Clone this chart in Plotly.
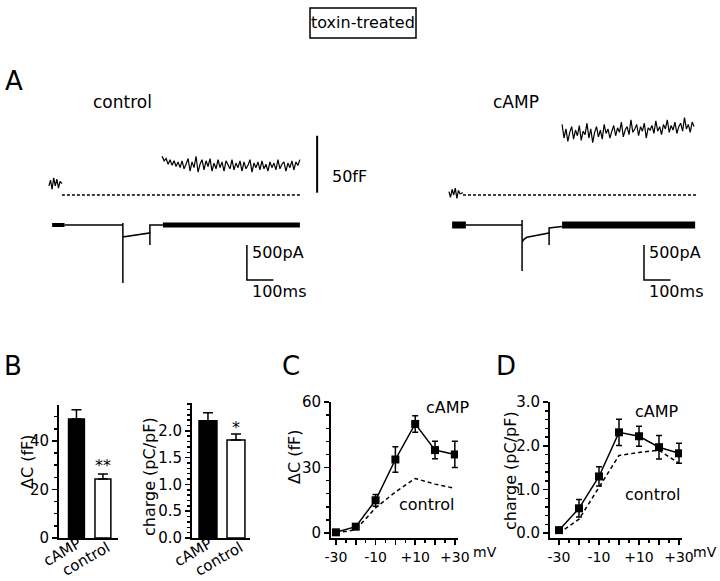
import plotly.graph_objects as go

W, H = 720, 581
FONT = "DejaVu Sans"

# ---------------- Panel A data (time in ms, capacitance in fF, current in pA)
ctrl_pre_t = [-4, 2, 8, 14, 20, 26, 32, 38, 45]
ctrl_pre_c = [8, 13, 5, 15, 8, 14, 6, 12, 10]
ctrl_base_t = [45, 943]
ctrl_post_c = [34, 30, 32, 27, 31, 26, 30, 25, 29, 24, 30, 23, 27, 32, 21, 29, 24, 34, 20, 27,
               31, 22, 30, 25, 32, 21, 28, 23, 31, 24, 29, 21, 30, 26, 23, 31, 22, 28, 24, 30,
               21, 29, 23, 26, 31, 20, 28, 24, 29, 22, 30, 23, 27, 21, 29, 24, 28, 22, 31, 23,
               27, 29, 21, 28, 24, 30, 22, 29, 26, 31]
ctrl_post_t0, ctrl_post_t1 = 423, 943
ctrl_cur_t = [55, 275, 275, 275, 275, 377, 377, 377, 377, 426]
ctrl_cur_i = [0, 0, 30, -830, -170, -114, -286, -14, 0, 0]
ctrl_pre_band = [8, 55]
ctrl_band = [426, 943]

camp_pre_t = [-4, 2, 8, 14, 20, 26, 32, 38, 49]
camp_pre_c = [3, -2, 5, 0, 6, -3, 4, 1, 2]
camp_base_t = [49, 936]
camp_post_c = [62, 50, 58, 47, 55, 60, 49, 57, 52, 61, 48, 56, 53, 63, 50, 58, 46, 55, 60, 51,
               57, 49, 62, 54, 58, 50, 56, 61, 52, 59, 55, 64, 51, 57, 60, 53, 66, 55, 58, 62,
               52, 60, 56, 63, 50, 59, 57, 61, 54, 65, 56, 60, 53, 62, 58, 66, 55, 61, 57, 64,
               54, 60, 63, 56, 68, 58, 62, 55, 64, 60]
camp_post_t0, camp_post_t1 = 423, 921
camp_cur_t = [60, 272, 272, 272, 272, 280, 290, 310, 340, 374, 374, 374, 423]
camp_cur_i = [0, 0, 71, -657, -243, -200, -175, -160, -140, -114, -286, -43, -20]
camp_pre_band = [8, 60]
camp_band = [423, 925]

# ---------------- Panel B data
groups = ["cAMP", "control"]
dC_mean = [49, 24.3]
dC_err = [3.8, 2.1]
dC_ticks = [0, 20, 40]
charge_mean = [2.19, 1.83]
charge_err = [0.15, 0.11]
charge_ticks = [0.0, 0.5, 1.0, 1.5, 2.0]
sig_dC = "**"
sig_charge = "*"

# ---------------- Panels C, D data
mv = [-30, -20, -10, 0, 10, 20, 30]
mv_labels = ["-30", "", "-10", "", "+10", "", "+30"]
C_camp = [0.3, 2.9, 15, 33.7, 50, 38, 36]
C_camp_err = [0.5, 1.0, 2.7, 5.8, 3.8, 4, 6]
C_ctrl = [0, 1.5, 11.5, 18.8, 25, 22.4, 20.5]
C_ticks = [0, 30, 60]
D_camp = [0.07, 0.57, 1.30, 2.31, 2.22, 1.97, 1.83]
D_camp_err = [0.03, 0.2, 0.22, 0.3, 0.23, 0.27, 0.23]
D_ctrl = [0, 0.32, 1.05, 1.78, 1.85, 1.90, 1.60]
D_ticks = [0.0, 1.0, 2.0, 3.0]


def lin(a, b, n):
    return [a + (b - a) * k / (n - 1) for k in range(n)]


def px(x):
    return x / W


def py(y):
    return 1 - y / H


fig = go.Figure()

def add_side(xa, ya_c, ya_i, pre_t, pre_c, base_t, post_c, t0, t1, cur_t, cur_i,
             pre_band, band, bw_pre, bw):
    fig.add_trace(go.Scatter(x=pre_t, y=pre_c, mode="lines", line=dict(color="black", width=1.2),
                             xaxis=xa, yaxis=ya_c))
    fig.add_trace(go.Scatter(x=base_t, y=[0, 0], mode="lines",
                             line=dict(color="black", width=1.3, dash="3px,2px"),
                             xaxis=xa, yaxis=ya_c))
    fig.add_trace(go.Scatter(x=lin(t0, t1, len(post_c)), y=post_c, mode="lines",
                             line=dict(color="black", width=1.2), xaxis=xa, yaxis=ya_c))
    fig.add_trace(go.Scatter(x=pre_band, y=[0, 0], mode="lines", line=dict(color="black", width=bw_pre),
                             xaxis=xa, yaxis=ya_i))
    fig.add_trace(go.Scatter(x=cur_t, y=cur_i, mode="lines", line=dict(color="black", width=1.5),
                             xaxis=xa, yaxis=ya_i))
    fig.add_trace(go.Scatter(x=band, y=[0, 0], mode="lines", line=dict(color="black", width=bw),
                             xaxis=xa, yaxis=ya_i))

add_side("x", "y", "y2", ctrl_pre_t, ctrl_pre_c, ctrl_base_t, ctrl_post_c, ctrl_post_t0, ctrl_post_t1,
         ctrl_cur_t, ctrl_cur_i, ctrl_pre_band, ctrl_band, 4, 5)
add_side("x2", "y3", "y4", camp_pre_t, camp_pre_c, camp_base_t, camp_post_c, camp_post_t0, camp_post_t1,
         camp_cur_t, camp_cur_i, camp_pre_band, camp_band, 7, 7)

# scale bars (50 fF, 500 pA, 100 ms)
fig.add_trace(go.Scatter(x=[1008, 1008], y=[2, 52], mode="lines", line=dict(color="black", width=2),
                         xaxis="x", yaxis="y"))
for xa, ya, t0 in [("x", "y2", 743), ("x2", "y4", 732)]:
    fig.add_trace(go.Scatter(x=[t0, t0, t0 + 100], y=[-286, -786, -786], mode="lines",
                             line=dict(color="black", width=1.5), xaxis=xa, yaxis=ya))

# ---------------- Panel B bars
fig.add_trace(go.Bar(x=groups, y=dC_mean, width=0.6,
                     marker=dict(color=["black", "white"], line=dict(color="black", width=1.5)),
                     error_y=dict(type="data", array=dC_err, arrayminus=[0, 0], symmetric=False,
                                  color="black", thickness=1.5, width=5),
                     xaxis="x3", yaxis="y5"))
fig.add_trace(go.Bar(x=groups, y=charge_mean, width=0.64,
                     marker=dict(color=["black", "white"], line=dict(color="black", width=1.5)),
                     error_y=dict(type="data", array=charge_err, arrayminus=[0, 0], symmetric=False,
                                  color="black", thickness=1.5, width=5),
                     xaxis="x4", yaxis="y6"))

# ---------------- Panels C, D
for xa, ya, camp, err, ctrl in [("x5", "y7", C_camp, C_camp_err, C_ctrl),
                                ("x6", "y8", D_camp, D_camp_err, D_ctrl)]:
    fig.add_trace(go.Scatter(x=mv, y=ctrl, mode="lines",
                             line=dict(color="black", width=1.5, dash="4px,3px"), xaxis=xa, yaxis=ya))
    fig.add_trace(go.Scatter(x=mv, y=camp, mode="lines+markers",
                             line=dict(color="black", width=1.5),
                             marker=dict(symbol="square", size=8, color="black"),
                             error_y=dict(type="data", array=err, color="black", thickness=1.5, width=3),
                             xaxis=xa, yaxis=ya))

hidden = dict(visible=False, fixedrange=True, automargin=False)
tf = dict(family=FONT, size=15, color="black")
tfx = dict(family=FONT, size=14, color="black")
minor_tk = dict(ticks="outside", ticklen=3, tickcolor="black", tickwidth=1.5)
common_y = dict(showline=True, linecolor="black", linewidth=2, ticks="outside", ticklen=5,
                tickwidth=1.5, tickcolor="black", showgrid=False, zeroline=False, tickfont=tf,
                automargin=False, fixedrange=True)
common_x = dict(showline=True, linecolor="black", linewidth=2, showgrid=False, zeroline=False,
                tickfont=tfx, automargin=False, fixedrange=True)

fig.update_layout(
    template="none",
    width=W, height=H, margin=dict(l=0, r=0, t=0, b=0, pad=0, autoexpand=False),
    paper_bgcolor="white", plot_bgcolor="white", showlegend=False,
    font=dict(family=FONT, size=16, color="black"),
    xaxis=dict(domain=[px(40), px(370)], range=[-37.7, 1207.5], anchor="y", **hidden),
    yaxis=dict(domain=[py(205), py(105)], range=[-8.8, 79], anchor="x", **hidden),
    yaxis2=dict(domain=[py(300), py(210)], range=[-1071, 214], anchor="x", **hidden),
    xaxis2=dict(domain=[px(440), px(718)], range=[-37.7, 1011.3], anchor="y3", **hidden),
    yaxis3=dict(domain=[py(205), py(105)], range=[-8.8, 79], anchor="x2", **hidden),
    yaxis4=dict(domain=[py(300), py(210)], range=[-1071, 214], anchor="x2", **hidden),
    xaxis3=dict(domain=[px(59), px(118)], range=[-0.66, 1.57], anchor="y5", type="category",
                ticks="", showticklabels=False, **common_x),
    yaxis5=dict(domain=[py(538), py(405)], range=[0, 54.8], anchor="x3", tickvals=dC_ticks,
                minor=dict(dtick=5, **minor_tk), **common_y),
    xaxis4=dict(domain=[px(192), px(250)], range=[-0.57, 1.5], anchor="y6", type="category",
                ticks="", showticklabels=False, **common_x),
    yaxis6=dict(domain=[py(538), py(403)], range=[0, 2.52], anchor="x4", tickvals=charge_ticks,
                tickformat=".1f", minor=dict(dtick=0.1, **minor_tk), **common_y),
    xaxis5=dict(domain=[px(331), px(458)], range=[-32.5, 31.6], anchor="y7",
                tickvals=mv, ticktext=mv_labels, ticks="outside", ticklen=5, tickwidth=1.5,
                tickcolor="black", minor=dict(dtick=5, **minor_tk), **common_x),
    yaxis7=dict(domain=[py(538), py(402)], range=[-2.3, 60.05], anchor="x5", tickvals=C_ticks,
                minor=dict(dtick=6, **minor_tk), **common_y),
    xaxis6=dict(domain=[px(550), px(682)], range=[-34.5, 31.5], anchor="y8",
                tickvals=mv, ticktext=mv_labels, ticks="outside", ticklen=5, tickwidth=1.5,
                tickcolor="black", minor=dict(dtick=5, **minor_tk), **common_x),
    yaxis8=dict(domain=[py(538), py(402)], range=[-0.11, 3.005], anchor="x6", tickvals=D_ticks,
                tickformat=".1f", minor=dict(dtick=0.2, **minor_tk), **common_y),
)

ann = []
def pa(text, x, y, size=17, angle=0, xanchor="center"):
    ann.append(dict(text=text, x=px(x), y=py(y), xref="paper", yref="paper", showarrow=False,
                    font=dict(family=FONT, size=size, color="black"), textangle=angle,
                    xanchor=xanchor, yanchor="middle"))

pa("toxin-treated", 363, 23, 16)
pa("A", 14, 81, 26)
pa("B", 13, 366, 26)
pa("C", 291, 366, 26)
pa("D", 506, 366, 26)
pa("control", 122, 102)
pa("cAMP", 516, 102)
pa("50fF", 330, 177, 16, xanchor="left")
pa("ΔC (fF)", 27, 462, 16, angle=-90)
pa("charge (pC/pF)", 150, 477, 16, angle=-90)
pa("ΔC (fF)", 294, 457, 16, angle=-90)
pa("charge (pC/pF)", 510, 471, 16, angle=-90)
pa("mV", 471, 552, 14, xanchor="left")
pa("mV", 719, 552, 14, xanchor="right")

def da(text, x, y, xref, yref, xanchor="center", size=16, angle=0, xshift=0):
    ann.append(dict(text=text, x=x, y=y, xref=xref, yref=yref, showarrow=False, textangle=angle,
                    xshift=xshift,
                    font=dict(family=FONT, size=size, color="black"), xanchor=xanchor, yanchor="middle"))

# rotated category labels under the bars
for xr in ["x3", "x4"]:
    da(groups[0], groups[0], py(552), xr, "paper", angle=-30, xshift=-14, size=15)
    da(groups[1], groups[1], py(559), xr, "paper", angle=-30, xshift=-17, size=15)

da("500pA", 755, -386, "x", "y2", "left")
da("100ms", 755, -943, "x", "y2", "left")
da("500pA", 743, -386, "x2", "y4", "left")
da("100ms", 743, -943, "x2", "y4", "left")
da(sig_dC, "control", dC_mean[1] + dC_err[1] + 3.5, "x3", "y5")
da(sig_charge, "control", charge_mean[1] + charge_err[1] + 0.12, "x4", "y6")
da("cAMP", 26.6, 57.5, "x5", "y7")
da("control", 15.5, 13.2, "x5", "y7")
da("cAMP", 19, 2.79, "x6", "y8")
da("control", 16.5, 0.89, "x6", "y8")

fig.update_layout(annotations=ann,
                  shapes=[dict(type="rect", xref="paper", yref="paper", x0=px(310), x1=px(416),
                               y0=py(38), y1=py(8), line=dict(color="black", width=1.5))])

fig.write_html("out.html", config={"displayModeBar": False, "staticPlot": True},
               post_script="document.body.style.margin='0px';")
